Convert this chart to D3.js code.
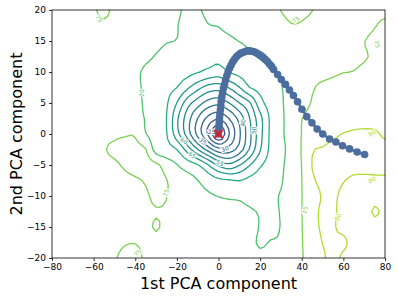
<!DOCTYPE html>
<html>
<head>
<meta charset="utf-8">
<script src="https://cdn.jsdelivr.net/npm/d3@7"></script>
<style>
  body { margin: 0; background: #fff; }
  svg text { font-family: "DejaVu Sans", sans-serif; }
</style>
</head>
<body>
<div id="chart"></div>
<script>
// grid columns (x) and rows (y, top to bottom) of the field
var gridX = [-80,-75,-70,-65,-60,-55,-50,-45,-40,-35,-30,-25,-20,-15,-10,-5,0,5,10,15,20,25,30,35,40,45,50,55,60,65,70,75,80];
var gridY = [20,17.5,15,12.5,10,7.5,5,2.5,0,-2.5,-5,-7.5,-10,-12.5,-15,-17.5,-20];

var field = [
  [72.5,73,73,73.5,74.5,76,74,73,72.5,72,71.5,71,70.3,69.7,69.8,70.5,71,71.5,72,72.5,73,73.5,75.1,76,75.5,75.05,74,73.5,73.5,73.5,74,74.5,74.5],
  [72.5,72.8,73,73.2,73.8,74.2,73.5,72.8,72.3,71.8,71.2,70.8,70.1,69.3,69,69.9,70.1,70.8,71.3,71.8,72.2,72.6,73.5,74.8,74.7,74.2,73.5,73.2,73,73,73.5,74.8,75.5],
  [72.3,72.5,72.8,73,73.2,73.3,73,72.5,72,71.5,70.9,70.2,69.9,68.8,68.3,68.5,68.8,69.3,70.1,70.8,71.2,71.6,72.2,72.8,73.2,73.2,73,72.8,72.8,73.5,74.9,76,76.5],
  [72,72.2,72.5,72.8,73,73,72.7,72.2,71.5,70.6,69.8,68.8,68,67.3,66.6,66.2,66.3,66.8,67.8,69.4,70.3,71,71.6,72.2,72.6,73,73.2,73.4,73.6,74.2,74.7,75.5,76],
  [71.8,72,72.3,72.5,72.7,72.5,72,71.3,70.6,69.5,69,68.2,67.3,66.5,65.3,64,62.8,65.2,66.5,67.5,68.5,69.6,70.4,71.2,72.2,74,74.2,74.5,74.9,75.1,75.8,76.3,76.5],
  [71.8,72,72.2,72.3,72.5,72.3,72,71.5,70.7,69.4,67.9,66.4,65,60.9,56.6,53.1,52.2,55.3,59.8,65,66.6,68.2,69.8,71.3,72.8,74.7,75.5,76,76.5,77,77.3,77.5,77.5],
  [71.6,71.8,72,72.2,72.3,72.2,72,71.5,70.8,69.5,67.5,65.6,59.9,52.3,47.3,43,41.4,44.9,49.9,54.4,63.1,67,69.5,71.5,73.3,75.3,76.3,77,77.5,78,78.3,78.5,78.5],
  [71.5,71.8,72,72.3,72.5,72.5,72.3,71.8,71,69.8,67.4,65,56,47.5,39.9,33.6,30.7,35,41.6,50,58.4,65.9,69.3,71.5,74.9,76.3,77.3,78,78.5,79,79.3,79.4,79.4],
  [71.6,72,72.5,73,73.5,74,74.3,74.6,74.5,70.2,67.7,65.3,57,47.8,38.5,29.3,20,29.6,39.1,48.7,58.3,65.9,69.1,72.1,75.1,77.5,78.8,79.5,80.1,80.3,80.3,80.2,79.8],
  [71.8,72.2,72.7,73.2,73.8,74.8,75.6,76.2,76,75.2,68,66.9,65,58,50.2,43.1,37,37.4,42.2,50.6,59.6,66.1,68.9,71.5,75.3,79.6,80.2,80.6,80.8,80.8,80.8,80.6,80.4],
  [72,72.4,72.8,73.2,73.5,74,74.5,75.4,76.2,76.3,76,72.5,70.2,67.7,65.4,60.3,54.1,51.2,54.7,59.8,64.4,66.9,69.2,72,75.1,80.1,80.8,81,81,81,81,81,80.8],
  [72.1,72.4,72.7,73,73.2,73.5,73.8,74.2,74.6,75.3,76.4,75.2,72.5,71.5,70.05,67.9,66.3,65.6,64.9,66.4,67.3,68.3,69.5,72.7,74.95,79.4,80.5,80.6,80.1,79.5,79.4,79.5,79.6],
  [72,72.3,72.5,72.7,72.8,73,73.3,73.6,74,74.5,75.8,75.1,73,72,71.2,70.5,69.9,69.6,69.4,68.9,68.7,69.3,70.3,72.5,74.9,78.5,80.2,80.3,79.6,79.5,79.6,79.5,79.6],
  [72,72.2,72.4,72.6,72.8,73,73.2,73.5,73.8,74.2,74.8,74.5,73.2,72.5,72,71.5,71,70.8,70.6,70.3,69.8,69.4,70.2,72.4,74.9,79,80.3,80.2,79.6,79.7,79.5,80.15,79.7],
  [72,72.3,72.6,72.8,73,73.2,73.5,73.8,74,74,75.3,74,73.3,72.8,72.4,72,71.5,71.3,71,70.6,69.9,69.5,70.1,72.3,74.8,79,80.2,80.1,79.7,79.6,79.5,79.5,79.7],
  [72,72.3,72.6,72.9,73.2,73.6,74.2,74.8,74.9,74.3,74,73.6,73.2,72.8,72.4,72,71.6,71.3,71,70.5,69.8,70.1,70.4,72.3,74.7,78.5,80.05,80.1,80.2,79.6,79.7,79.5,79.6],
  [72,72.3,72.6,73,73.4,74,74.8,75.6,76,74.5,74,73.5,73,72.5,72.2,71.8,71.4,71,70.7,70.3,70.4,70.5,70.8,72.5,74.6,77.5,79.7,80.3,79.8,79.6,79.5,79.6,79.7]
];

var levels = [25,30,35,40,45,50,55,60,65,70,75,80];

// trajectory
var pathX = [0,0.1,0.2,0.3,0.4,0.5,0.7,0.9,1.1,1.3,1.6,2.0,2.4,2.9,3.4,4.0,4.6,5.3,6.0,6.8,7.6,8.5,9.5,10.6,11.7,12.8,13.9,14.9,16.0,17.1,18.1,19.2,20.3,21.3,22.4,23.5,24.5,25.5,26.5,28.4,30.2,32.2,34.1,36.0,38.0,40.1,42.4,44.9,47.4,50.1,53.4,56.4,59.6,63.0,66.6,70.2];
var pathY = [0,0.5,1.0,1.5,2.0,2.6,3.2,3.9,4.6,5.3,6.0,6.7,7.4,8.0,8.7,9.4,10.0,10.6,11.1,11.6,12.0,12.4,12.75,13.0,13.15,13.3,13.4,13.4,13.35,13.25,13.1,12.9,12.65,12.4,12.05,11.7,11.3,10.9,10.4,9.6,8.8,8.0,7.1,6.2,5.2,4.0,2.8,1.8,0.8,0.0,-0.8,-1.3,-1.9,-2.4,-2.9,-3.3];

// contour labels: level, x, y, angle
var labelLevel = [75,70,75,75,25,35,30,40,50,55,60,65,75,75,75,80,80,80];
var labelX = [-57.4,-37,37.2,76.2,-3.3,-7.5,3.1,11.8,17.0,0.7,-16.6,-12.7,-25.2,-38.7,41.6,73.8,73.8,57.4];
var labelY = [18.6,6.6,18.4,14.5,0.3,-1.2,-2.4,1.8,0.6,-4.7,-1.1,-3.4,-9.5,-19.2,-12.3,0.1,-7.4,-13.4];
var labelAngle = [60,-90,-35,80,0,40,-20,-85,-85,25,35,35,-70,-50,-80,-30,-30,-60];

var xTicks = [-80,-60,-40,-20,0,20,40,60,80];
var yTicks = [-20,-15,-10,-5,0,5,10,15,20];

var W = 398, H = 300;
var padL = 52, padR = 385, padT = 10, padB = 258;

var x = d3.scaleLinear().domain([-80, 80]).range([padL, padR]);
var y = d3.scaleLinear().domain([-20, 20]).range([padB, padT]);

var tScale = d3.scaleLinear().domain([25, 60, 80]).range([0.25, 0.55, 0.88]);
function levelColor(v) { return d3.interpolateViridis(tScale(v)); }

var svg = d3.select("#chart").append("svg")
  .attr("width", W).attr("height", H);

svg.append("defs").append("clipPath").attr("id", "plotclip")
  .append("rect").attr("x", padL).attr("y", padT)
  .attr("width", padR - padL).attr("height", padB - padT);

// pad the grid by one cell on each side so edge segments fall outside the clip
var nx = gridX.length, ny = gridY.length;
var pw = nx + 2, ph = ny + 2;
function cell(c, r) {
  c = Math.max(-1, Math.min(nx, c));
  r = Math.max(-1, Math.min(ny, r));
  var rr = Math.max(0, Math.min(ny - 1, r));
  var cc = Math.max(0, Math.min(nx - 1, c));
  return field[rr][cc];
}
// smooth the drawing a little: catmull-rom resample of the read grid
function cr(p0, p1, p2, p3, t) {
  return 0.5 * (2 * p1 + (-p0 + p2) * t + (2 * p0 - 5 * p1 + 4 * p2 - p3) * t * t +
    (-p0 + 3 * p1 - 3 * p2 + p3) * t * t * t);
}
var k = 3;
var fw = (pw - 1) * k + 1, fh = (ph - 1) * k + 1;
var values = new Array(fw * fh);
for (var j = 0; j < fh; j++) {
  var gy = j / k - 1, ry = Math.floor(gy), ty = gy - ry;
  for (var i = 0; i < fw; i++) {
    var gx = i / k - 1, rx = Math.floor(gx), tx = gx - rx;
    var col = [];
    for (var m = -1; m <= 2; m++) {
      col.push(cr(cell(rx - 1, ry + m), cell(rx, ry + m), cell(rx + 1, ry + m), cell(rx + 2, ry + m), tx));
    }
    values[j * fw + i] = cr(col[0], col[1], col[2], col[3], ty);
  }
}
var dx = gridX[1] - gridX[0], dy = gridY[0] - gridY[1];
var x0 = gridX[0] - dx, y0 = gridY[0] + dy;

var proj = d3.geoTransform({
  point: function(u, v) {
    this.stream.point(x(x0 + dx * (u - 0.5) / k), y(y0 - dy * (v - 0.5) / k));
  }
});
var geo = d3.geoPath(proj);

var contours = d3.contours().size([fw, fh]).thresholds(levels)(values);

var plot = svg.append("g").attr("clip-path", "url(#plotclip)");

plot.selectAll("path.contour")
  .data(contours)
  .enter().append("path")
  .attr("class", "contour")
  .attr("d", geo)
  .attr("fill", "none")
  .attr("stroke", function(d) { return levelColor(d.value); })
  .attr("stroke-width", 1.3)
  .attr("stroke-linejoin", "round");

// contour labels
plot.selectAll("text.clabel")
  .data(labelLevel)
  .enter().append("text")
  .attr("class", "clabel")
  .attr("transform", function(d, i) {
    return "translate(" + x(labelX[i]) + "," + y(labelY[i]) + ") rotate(" + labelAngle[i] + ")";
  })
  .attr("text-anchor", "middle")
  .attr("dy", "0.35em")
  .style("font-size", "6px")
  .style("paint-order", "stroke")
  .attr("stroke", "#fff")
  .attr("stroke-width", 2)
  .attr("fill", function(d) { return levelColor(d); })
  .text(function(d) { return d; });

// trajectory
var pts = pathX.map(function(v, i) { return [v, pathY[i]]; });
var trajColor = "#4b6e9e";
plot.append("path")
  .datum(pts)
  .attr("d", d3.line().x(function(d) { return x(d[0]); }).y(function(d) { return y(d[1]); }))
  .attr("fill", "none")
  .attr("stroke", trajColor)
  .attr("stroke-width", 2.5);
plot.selectAll("circle.step")
  .data(pts)
  .enter().append("circle")
  .attr("class", "step")
  .attr("cx", function(d) { return x(d[0]); })
  .attr("cy", function(d) { return y(d[1]); })
  .attr("r", 3.8)
  .attr("fill", trajColor);

// red x at the start
var sx = x(0), sy = y(0), s = 4;
svg.append("path")
  .attr("d", "M" + (sx - s) + "," + (sy - s) + "L" + (sx + s) + "," + (sy + s) +
             "M" + (sx - s) + "," + (sy + s) + "L" + (sx + s) + "," + (sy - s))
  .attr("stroke", "#e8191c")
  .attr("stroke-width", 2);

// axes
var xAxis = svg.append("g").attr("transform", "translate(0," + padB + ")")
  .call(d3.axisBottom(x).tickValues(xTicks).tickSize(3).tickPadding(3)
    .tickFormat(function(d) { return d < 0 ? "\u2212" + Math.abs(d) : d; }));
var yAxis = svg.append("g").attr("transform", "translate(" + padL + ",0)")
  .call(d3.axisLeft(y).tickValues(yTicks).tickSize(3).tickPadding(3)
    .tickFormat(function(d) { return d < 0 ? "\u2212" + Math.abs(d) : d; }));
[xAxis, yAxis].forEach(function(a) {
  a.select(".domain").remove();
  a.selectAll("line").attr("stroke", "#000").attr("stroke-width", 0.8);
  a.selectAll("text").attr("fill", "#000").style("font-size", "9px")
    .style("font-family", "DejaVu Sans, sans-serif");
});

svg.append("rect")
  .attr("x", padL).attr("y", padT)
  .attr("width", padR - padL).attr("height", padB - padT)
  .attr("fill", "none").attr("stroke", "#000").attr("stroke-width", 0.8);

svg.append("text")
  .attr("x", (padL + padR) / 2).attr("y", 289)
  .attr("text-anchor", "middle")
  .style("font-size", "16px")
  .text("1st PCA component");

svg.append("text")
  .attr("transform", "translate(22," + ((padT + padB) / 2) + ") rotate(-90)")
  .attr("text-anchor", "middle")
  .style("font-size", "16px")
  .text("2nd PCA component");
</script>
</body>
</html>
